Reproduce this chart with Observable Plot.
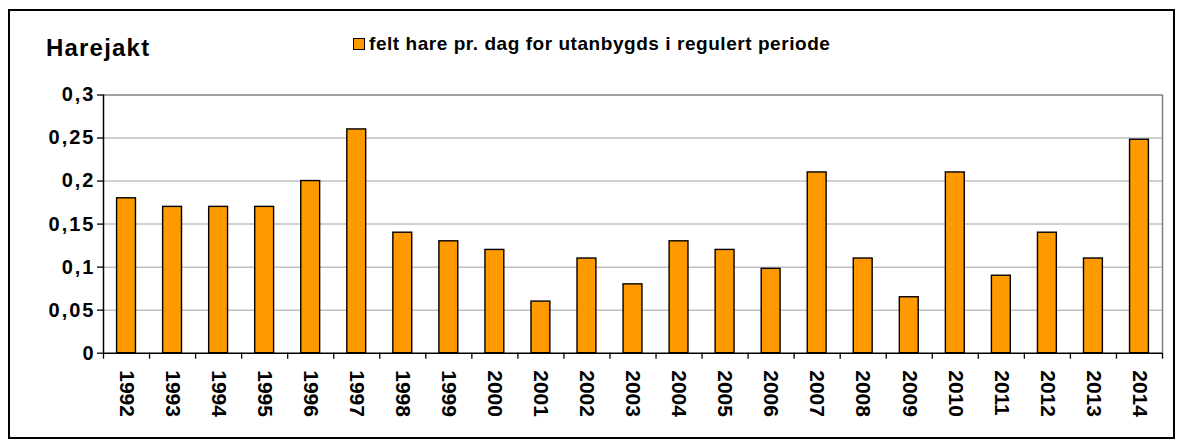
<!DOCTYPE html>
<html>
<head>
<meta charset="utf-8">
<script src="https://cdn.jsdelivr.net/npm/d3@7"></script>
<script src="https://cdn.jsdelivr.net/npm/@observablehq/plot@0.6"></script>
<style>
  html, body { margin: 0; padding: 0; background: #fff; }
  #wrap { position: relative; width: 1182px; height: 445px; font-family: "Liberation Sans", Arial, sans-serif; }
  #frame { position: absolute; left: 8px; top: 9px; width: 1163px; height: 426px; border: 2px solid #000; box-sizing: content-box; pointer-events: none; }
  #title { position: absolute; left: 46px; top: 34px; font-size: 24px; font-weight: bold; letter-spacing: 1.2px; color: #000; }
  #legend { position: absolute; left: 353px; top: 33px; font-size: 19px; font-weight: bold; letter-spacing: 0.55px; color: #000; display: flex; align-items: center; white-space: nowrap; }
  #legend .sw { width: 10px; height: 10px; background: #FF9900; border: 1.5px solid #000; margin-right: 4px; display: inline-block; }
  #chart { position: absolute; left: 0; top: 0; }
  #chart svg g[aria-label="y-axis tick label"] text { letter-spacing: 2px; }
</style>
</head>
<body>
<div id="wrap">
  <div id="chart"></div>
  <div id="title">Harejakt</div>
  <div id="legend"><span class="sw"></span><span id="legtext"></span></div>
  <div id="frame"></div>
</div>
<script>
const years = [1992, 1993, 1994, 1995, 1996, 1997, 1998, 1999, 2000, 2001, 2002, 2003, 2004, 2005, 2006, 2007, 2008, 2009, 2010, 2011, 2012, 2013, 2014];
const values = [0.18, 0.17, 0.17, 0.17, 0.20, 0.26, 0.14, 0.13, 0.12, 0.06, 0.11, 0.08, 0.13, 0.12, 0.098, 0.21, 0.11, 0.065, 0.21, 0.09, 0.14, 0.11, 0.248];
const yTicks = [0, 0.05, 0.1, 0.15, 0.2, 0.25, 0.3];
const yTickLabels = ["0", "0,05", "0,1", "0,15", "0,2", "0,25", "0,3"];
const seriesName = "felt hare pr. dag for utanbygds i regulert periode";

document.getElementById("legtext").textContent = seriesName;

const data = years.map((y, i) => ({year: y, value: values[i]}));
const boundaries = [years[0] - 0.5, ...years.map(y => y + 0.5)];
const half = 0.205;

const chart = Plot.plot({
  width: 1182,
  height: 445,
  marginTop: 94.5,
  marginLeft: 103,
  marginRight: 20,
  marginBottom: 92.3,
  style: {fontFamily: "'Liberation Sans', Arial, sans-serif", background: "transparent", color: "#000"},
  x: {domain: [years[0] - 0.5, years[years.length - 1] + 0.5]},
  y: {domain: [0, 0.3]},
  marks: [
    Plot.gridY(yTicks.slice(1, -1), {stroke: "#c0c0c0", strokeOpacity: 1, strokeWidth: 1.5}),
    Plot.ruleY([0.3], {stroke: "#808080", strokeWidth: 1.5}),
    Plot.ruleX([years[years.length - 1] + 0.5], {stroke: "#808080", strokeWidth: 1.5}),
    Plot.rectY(data, {x1: d => d.year - half, x2: d => d.year + half, y: "value", fill: "#FF9900", stroke: "#000", strokeWidth: 1.4}),
    Plot.ruleX([years[0] - 0.5], {stroke: "#000", strokeWidth: 1.5}),
    Plot.ruleY([0], {stroke: "#000", strokeWidth: 1.5}),
    Plot.axisY({ticks: yTicks, tickFormat: d => yTickLabels[yTicks.indexOf(d)], tickSize: 6, tickPadding: 2, fontSize: 20, fontWeight: "bold", label: null, stroke: "#000", strokeWidth: 1.3}),
    Plot.axisX({ticks: boundaries, tickSize: 6, tickFormat: () => "", label: null, stroke: "#000", strokeWidth: 1.3}),
    Plot.axisX({ticks: years, tickSize: 0, tickRotate: 90, tickPadding: 17, tickFormat: d => String(d), fontSize: 21, fontWeight: "bold", label: null})
  ]
});
document.getElementById("chart").appendChild(chart);
</script>
</body>
</html>
